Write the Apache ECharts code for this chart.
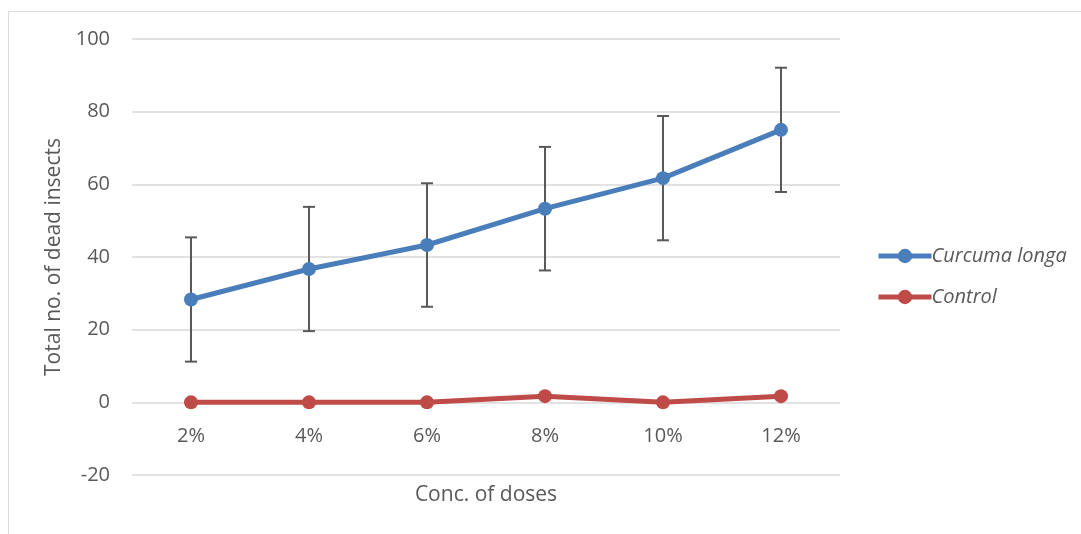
<!DOCTYPE html>
<html>
<head>
<meta charset="utf-8">
<script src="https://cdn.jsdelivr.net/npm/echarts@6/dist/echarts.min.js"></script>
<style>
  html, body { margin: 0; padding: 0; background: #ffffff; }
  #frame { position: absolute; left: 8px; top: 11px; width: 1090px; height: 540px; border: 1px solid #d9d9d9; box-sizing: border-box; }
  #chart { position: absolute; left: 0; top: 0; width: 1081px; height: 534px; }
</style>
</head>
<body>
<div id="frame"></div>
<div id="chart"></div>
<script>
// Dose concentrations on the x axis
const doses = ['2%', '4%', '6%', '8%', '10%', '12%'];
// Total dead insects per dose
const curcumaLonga = [28.3, 36.7, 43.3, 53.3, 61.7, 75.0];
const control = [0, 0, 0, 1.7, 0, 1.7];
// Symmetric error for Curcuma longa
const curcumaError = [17.1, 17.1, 17.0, 17.0, 17.1, 17.1];
// Y axis range
const yMin = -20, yMax = 100, yStep = 20;

const errorData = doses.map((d, i) => [i, curcumaLonga[i] - curcumaError[i], curcumaLonga[i] + curcumaError[i]]);

const font = '"Open Sans", "Noto Sans", sans-serif';
const blue = '#4a7ebb';
const red = '#be4b48';
const chart = echarts.init(document.getElementById('chart'), null, { renderer: 'canvas' });

chart.setOption({
  animation: false,
  backgroundColor: 'transparent',
  grid: { left: 132, right: 241, top: 39, bottom: 59, containLabel: false },
  legend: {
    orient: 'vertical',
    left: 876,
    top: 246,
    padding: 0,
    itemWidth: 53,
    itemHeight: 18,
    itemGap: 21,
    data: [
      { name: 'Curcuma longa', lineStyle: { width: 5, color: blue } },
      { name: 'Control', lineStyle: { width: 5, color: red } }
    ],
    textStyle: { fontFamily: font, fontSize: 20, lineHeight: 20, fontStyle: 'italic', color: '#595959', padding: [0, 0, 0, -5] }
  },
  xAxis: {
    type: 'category',
    data: doses,
    boundaryGap: true,
    name: 'Conc. of doses',
    nameLocation: 'middle',
    nameGap: 83,
    nameTextStyle: { fontFamily: font, fontSize: 21, color: '#595959' },
    axisLine: { show: false },
    axisTick: { show: false },
    axisLabel: { fontFamily: font, fontSize: 20, color: '#595959', margin: 24 },
    position: 'bottom',
    offset: -73
  },
  yAxis: {
    type: 'value',
    min: yMin,
    max: yMax,
    interval: yStep,
    name: 'Total no. of dead insects',
    nameLocation: 'middle',
    nameGap: 57,
    nameTextStyle: { fontFamily: font, fontSize: 21, color: '#595959' },
    axisLine: { show: false },
    axisTick: { show: false },
    axisLabel: { fontFamily: font, fontSize: 20, color: '#595959', margin: 22 },
    splitLine: { lineStyle: { color: '#d9d9d9', width: 1.5 } }
  },
  series: [
    {
      name: 'Curcuma longa',
      type: 'line',
      data: curcumaLonga,
      symbol: 'circle',
      symbolSize: 14,
      z: 3,
      itemStyle: { color: blue },
      lineStyle: { color: blue, width: 5 }
    },
    {
      name: 'Control',
      type: 'line',
      data: control,
      symbol: 'circle',
      symbolSize: 14,
      z: 3,
      itemStyle: { color: red },
      lineStyle: { color: red, width: 5 }
    },
    {
      name: 'error',
      type: 'custom',
      data: errorData,
      z: 2,
      renderItem: function (params, api) {
        const x = api.value(0);
        const lo = api.coord([x, api.value(1)]);
        const hi = api.coord([x, api.value(2)]);
        const half = 6;
        const style = { stroke: '#595959', lineWidth: 2 };
        return {
          type: 'group',
          children: [
            { type: 'line', shape: { x1: hi[0], y1: hi[1], x2: lo[0], y2: lo[1] }, style: style },
            { type: 'line', shape: { x1: hi[0] - half, y1: hi[1], x2: hi[0] + half, y2: hi[1] }, style: style },
            { type: 'line', shape: { x1: lo[0] - half, y1: lo[1], x2: lo[0] + half, y2: lo[1] }, style: style }
          ]
        };
      }
    }
  ]
});
</script>
</body>
</html>
